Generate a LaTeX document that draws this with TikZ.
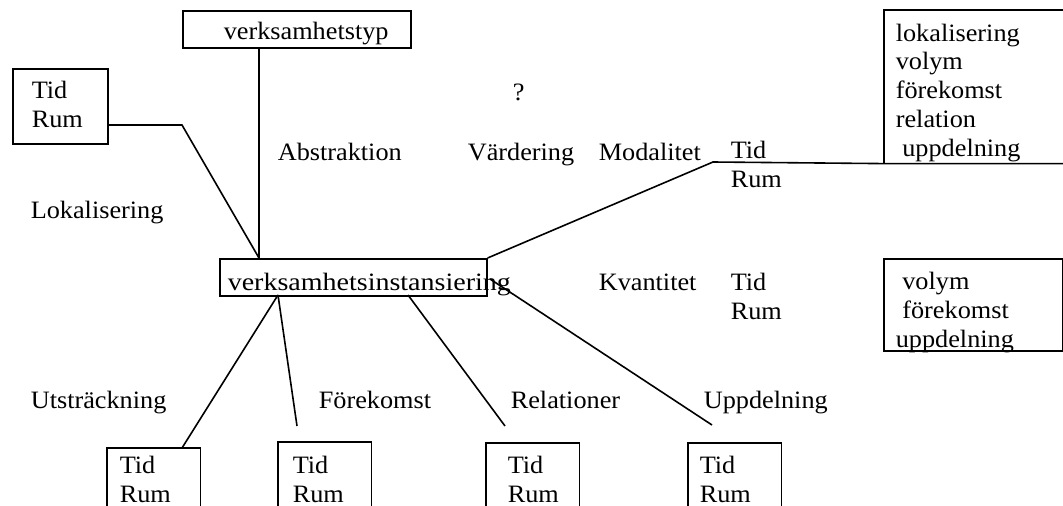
\documentclass[tikz,border=0pt]{standalone}
\usepackage{fontspec}
\setmainfont{Liberation Serif}[FakeStretch=1.05]
\newfontfamily\widefont{Liberation Serif}[FakeStretch=1.12]
\begin{document}
\begin{tikzpicture}[x=1pt,y=-1pt,line width=1.6pt,
  lbl/.style={anchor=base west,inner sep=0pt,font=\fontsize{25}{28.75}\selectfont},
  frame/.style={draw,line width=1.6pt,inner sep=0pt,anchor=north west},
  openbox/.style={inner sep=0pt,anchor=north west,minimum width=92pt,minimum height=62pt}]
\useasboundingbox (0,0) rectangle (1063,506);

% boxes
\node[frame,minimum width=228pt,minimum height=37pt] (typ) at (182,10) {};
\node[frame,minimum width=95pt,minimum height=75pt] (lb) at (12,68) {};
\node[frame,minimum width=267pt,minimum height=37pt] (main) at (219,258) {};
\node[frame,minimum width=179pt,minimum height=92pt] (rb2) at (883,258) {};
\node[inner sep=0pt,anchor=north west,minimum width=178pt,minimum height=152pt] (rb) at (884,10) {};
\draw (rb.south west) -- (rb.north west) -- (rb.north east) -- (rb.south east);
\node[openbox] (b1) at (107,448) {};
\node[openbox] (b2) at (278,442) {};
\node[openbox] (b3) at (486,443) {};
\node[openbox] (b4) at (688,443) {};
\foreach \b in {b1,b2,b3,b4}
  \draw (\b.south west) -- (\b.north west) -- (\b.north east) -- (\b.south east);

% texts (multi-line nodes: y is the baseline of the last line)
\node[lbl] (ttyp) at (223,39) {verksamhetstyp};
\node[lbl,align=left] (tlb) at (31,127) {Tid\\Rum};
\node[lbl] (q) at (512,100) {?};
\node[lbl] (abs) at (277,160) {Abstraktion};
\node[lbl] (vard) at (467,160) {Värdering};
\node[lbl] (mod) at (598,160) {Modalitet};
\node[lbl,align=left] (tr1) at (730,187) {Tid\\Rum};
\node[lbl] (lok) at (30,218) {Lokalisering};
\node[lbl,font=\widefont\fontsize{25}{28.75}\selectfont] (tmain) at (227,290) {verksamhetsinstansiering};
\node[lbl] (kv) at (598,290) {Kvantitet};
\node[lbl,align=left] (tr2) at (730,319) {Tid\\Rum};
\node[lbl,align=left] (trb) at (895,156) {lokalisering\\volym\\förekomst\\relation\\\ uppdelning};
\node[lbl,align=left] (trb2) at (895,347) {\ volym\\\ förekomst\\uppdelning};
\node[lbl] (uts) at (30,408) {Utsträckning};
\node[lbl] (fore) at (318,408) {Förekomst};
\node[lbl] (rel) at (510,408) {Relationer};
\node[lbl] (upp) at (703,408) {Uppdelning};
\node[lbl,align=left] (tb1) at (119,502) {Tid\\Rum};
\node[lbl,align=left] (tb2) at (292,502) {Tid\\Rum};
\node[lbl,align=left] (tb3) at (507,502) {Tid\\Rum};
\node[lbl,align=left] (tb4) at (699,502) {Tid\\Rum};

% connector points
\coordinate (mtop) at (259,258);
\coordinate (kl) at (182,125);
\coordinate (km) at (713,162);
\coordinate (e2) at (297,426);
\coordinate (e3) at (505,426);
\coordinate (e4) at (712,425);
\coordinate (mb1) at (278,295);
\coordinate (mb2) at (408,295);
\coordinate (b1t) at (182,448);
\coordinate (lbr) at (107,125);
\coordinate (me) at (490,279);
\coordinate (typb) at (259,47);

% connectors
\draw (typb) -- (mtop);
\draw (lbr) -- (kl) -- (mtop);
\draw (main.north east) -- (km) -- (rb.south west) -- (rb.south east);
\draw (me) -- (e4);
\draw (mb1) -- (b1t);
\draw (mb1) -- (e2);
\draw (mb2) -- (e3);
\end{tikzpicture}
\end{document}
